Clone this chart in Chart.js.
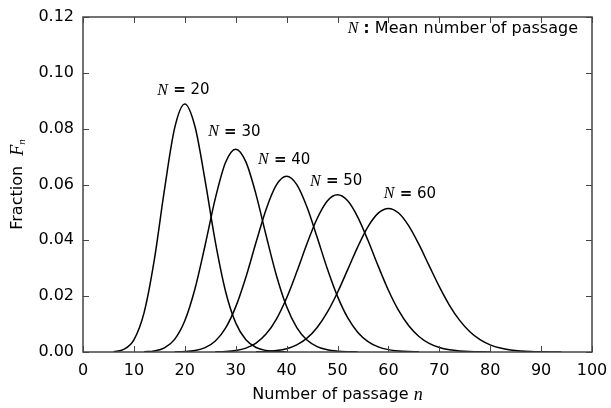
<!DOCTYPE html>
<html>
<head>
<meta charset="utf-8">
<script src="https://cdn.jsdelivr.net/npm/chart.js@4.4.1/dist/chart.umd.min.js"></script>
<style>
  html, body { margin: 0; padding: 0; background: #fff; }
</style>
</head>
<body>
<canvas id="myChart" width="611" height="408"></canvas>
<script>
// number of passage n (shared x values)
const passage = [6, 8, 10, 12, 14, 16, 18, 20, 22, 24, 26, 28, 30, 32, 34, 36, 38, 40, 42, 44, 46, 48, 50,
  52, 54, 56, 58, 60, 62, 64, 66, 68, 70, 72, 74, 76, 78, 80, 82, 84, 86, 88, 90, 92, 94];

// fraction F_n, one array per mean N
const fractionN20 = [0.00012, 0.00092, 0.00436, 0.01411, 0.03293, 0.05811, 0.08018, 0.08884, 0.08077,
  0.06132, 0.03945, 0.02178, 0.01043, 0.00437, 0.00162, 0.00053, 0.00016, 0.00004,
  null, null, null, null, null, null, null, null, null, null, null, null, null, null, null, null, null,
  null, null, null, null, null, null, null, null, null, null];
const fractionN30 = [null, null, null,
  0.00007, 0.00038, 0.00148, 0.00453, 0.01118, 0.02265, 0.03834, 0.05505, 0.06787, 0.07263, 0.06810,
  0.05639, 0.04154, 0.02740, 0.01627, 0.00875, 0.00428, 0.00191, 0.00078, 0.00030, 0.00010, 0.00003,
  null, null, null, null, null, null, null, null, null, null, null, null, null, null, null, null, null,
  null, null, null];
const fractionN40 = [null, null, null, null, null, null,
  0.00003, 0.00014, 0.00052, 0.00155, 0.00392, 0.00854, 0.01616, 0.02681, 0.03930, 0.05125, 0.05985,
  0.06295, 0.05996, 0.05194, 0.04110, 0.02983, 0.01993, 0.01229, 0.00702, 0.00372, 0.00184, 0.00085,
  0.00037, 0.00015, 0.00006,
  null, null, null, null, null, null, null, null, null, null, null, null, null, null];
const fractionN50 = [null, null, null, null, null, null, null, null, null, null,
  0.00005, 0.00018, 0.00054, 0.00140, 0.00320, 0.00650, 0.01181, 0.01935, 0.02872, 0.03878, 0.04782,
  0.05410, 0.05633, 0.05417, 0.04825, 0.03991, 0.03075, 0.02212, 0.01489, 0.00940, 0.00557, 0.00311,
  0.00164, 0.00081, 0.00038, 0.00017, 0.00007, 0.00003,
  null, null, null, null, null, null, null];
const fractionN60 = [null, null, null, null, null, null, null, null, null, null, null, null, null, null,
  0.00007, 0.00019, 0.00051, 0.00119, 0.00255, 0.00495, 0.00877, 0.01426, 0.02133, 0.02949, 0.03775,
  0.04489, 0.04973, 0.05143, 0.04978, 0.04517, 0.03852, 0.03092, 0.02340, 0.01673, 0.01132, 0.00726,
  0.00442, 0.00256, 0.00141, 0.00074, 0.00037, 0.00018, 0.00008, 0.00003, 0.00001];

const seriesLabels = ["20", "30", "40", "50", "60"];
const seriesValues = [fractionN20, fractionN30, fractionN40, fractionN50, fractionN60];

// tick labels
const xTicks = [0, 10, 20, 30, 40, 50, 60, 70, 80, 90, 100];
const yTicks = [0, 0.02, 0.04, 0.06, 0.08, 0.10, 0.12];

const SANS = "'DejaVu Sans', sans-serif";
const SERIF = "'Liberation Serif', 'DejaVu Serif', serif";
const AXIS = "#444";

// draw a run of text pieces with different fonts
function drawParts(ctx, parts, x, y, align) {
  let total = 0;
  parts.forEach(p => { ctx.font = p.font; total += ctx.measureText(p.text).width; });
  let cx = align === "center" ? x - total / 2 : align === "right" ? x - total : x;
  ctx.textBaseline = "middle";
  ctx.textAlign = "left";
  parts.forEach(p => {
    ctx.font = p.font;
    ctx.fillText(p.text, cx, y + (p.dy || 0));
    cx += ctx.measureText(p.text).width;
  });
}

const framePlugin = {
  id: "frame",
  afterDatasetsDraw(chart) {
    const ctx = chart.ctx;
    const a = chart.chartArea;
    const xs = chart.scales.x, ys = chart.scales.y;
    ctx.save();
    ctx.strokeStyle = AXIS;
    ctx.lineWidth = 1.5;
    ctx.strokeRect(a.left, a.top, a.right - a.left, a.bottom - a.top);

    // inward ticks on all four sides
    ctx.lineWidth = 1;
    ctx.beginPath();
    xTicks.forEach(v => {
      const px = Math.round(xs.getPixelForValue(v)) + 0.5;
      ctx.moveTo(px, a.bottom); ctx.lineTo(px, a.bottom - 6);
      ctx.moveTo(px, a.top); ctx.lineTo(px, a.top + 6);
    });
    yTicks.forEach(v => {
      const py = Math.round(ys.getPixelForValue(v)) + 0.5;
      ctx.moveTo(a.left, py); ctx.lineTo(a.left + 6, py);
      ctx.moveTo(a.right, py); ctx.lineTo(a.right - 6, py);
    });
    ctx.stroke();

    ctx.fillStyle = "#000";
    // curve labels
    const labelPos = [[14.6, 0.0937], [24.6, 0.0787], [34.4, 0.0687], [44.6, 0.0611], [59.1, 0.0565]];
    seriesLabels.forEach((t, i) => {
      drawParts(ctx, [
        { text: "N", font: "italic 16px " + SERIF },
        { text: " =", font: "bold 15px " + SANS },
        { text: " " + t, font: "15px " + SANS }
      ], xs.getPixelForValue(labelPos[i][0]), ys.getPixelForValue(labelPos[i][1]), "left");
    });

    // legend note
    drawParts(ctx, [
      { text: "N", font: "italic 16px " + SERIF },
      { text: " : ", font: "bold 15px " + SANS },
      { text: "Mean number of passage", font: "16px " + SANS }
    ], a.right - 14, a.top + 12, "right");

    // x axis title
    drawParts(ctx, [
      { text: "Number of passage ", font: "16px " + SANS },
      { text: "n", font: "italic 18px " + SERIF }
    ], (a.left + a.right) / 2, a.bottom + 43, "center");

    // y axis title
    ctx.translate(18, (a.top + a.bottom) / 2);
    ctx.rotate(-Math.PI / 2);
    drawParts(ctx, [
      { text: "Fraction  ", font: "16px " + SANS },
      { text: "F", font: "italic 18px " + SERIF },
      { text: "n", font: "italic 11px " + SERIF, dy: 4 }
    ], 0, 0, "center");
    ctx.restore();
  }
};

const ctx = document.getElementById("myChart").getContext("2d");
new Chart(ctx, {
  type: "line",
  data: {
    datasets: seriesValues.map((vals, i) => ({
      label: "N = " + seriesLabels[i],
      data: passage.map((n, j) => ({ x: n, y: vals[j] })),
      borderColor: "#000",
      borderWidth: 1.5,
      pointRadius: 0,
      fill: false,
      cubicInterpolationMode: "monotone",
      spanGaps: false
    }))
  },
  options: {
    responsive: false,
    animation: false,
    devicePixelRatio: 1,
    layout: { padding: { top: 17, right: 19, left: 0, bottom: 0 } },
    plugins: { legend: { display: false }, tooltip: { enabled: false } },
    scales: {
      x: {
        type: "linear",
        min: 0,
        max: 100,
        afterBuildTicks: s => { s.ticks = xTicks.map(v => ({ value: v })); },
        ticks: { color: "#000", font: { family: SANS, size: 16 }, padding: 9, maxRotation: 0 },
        grid: { display: false, drawTicks: false },
        border: { display: false },
        afterFit: s => { s.height = 56; s.paddingLeft = 0; s.paddingRight = 0; }
      },
      y: {
        min: 0,
        max: 0.12,
        afterBuildTicks: s => { s.ticks = yTicks.map(v => ({ value: v })); },
        ticks: { color: "#000", font: { family: SANS, size: 16 }, padding: 9, callback: v => v.toFixed(2) },
        grid: { display: false, drawTicks: false },
        border: { display: false },
        afterFit: s => { s.width = 83; s.paddingTop = 0; s.paddingBottom = 0; }
      }
    }
  },
  plugins: [framePlugin]
});
</script>
</body>
</html>
